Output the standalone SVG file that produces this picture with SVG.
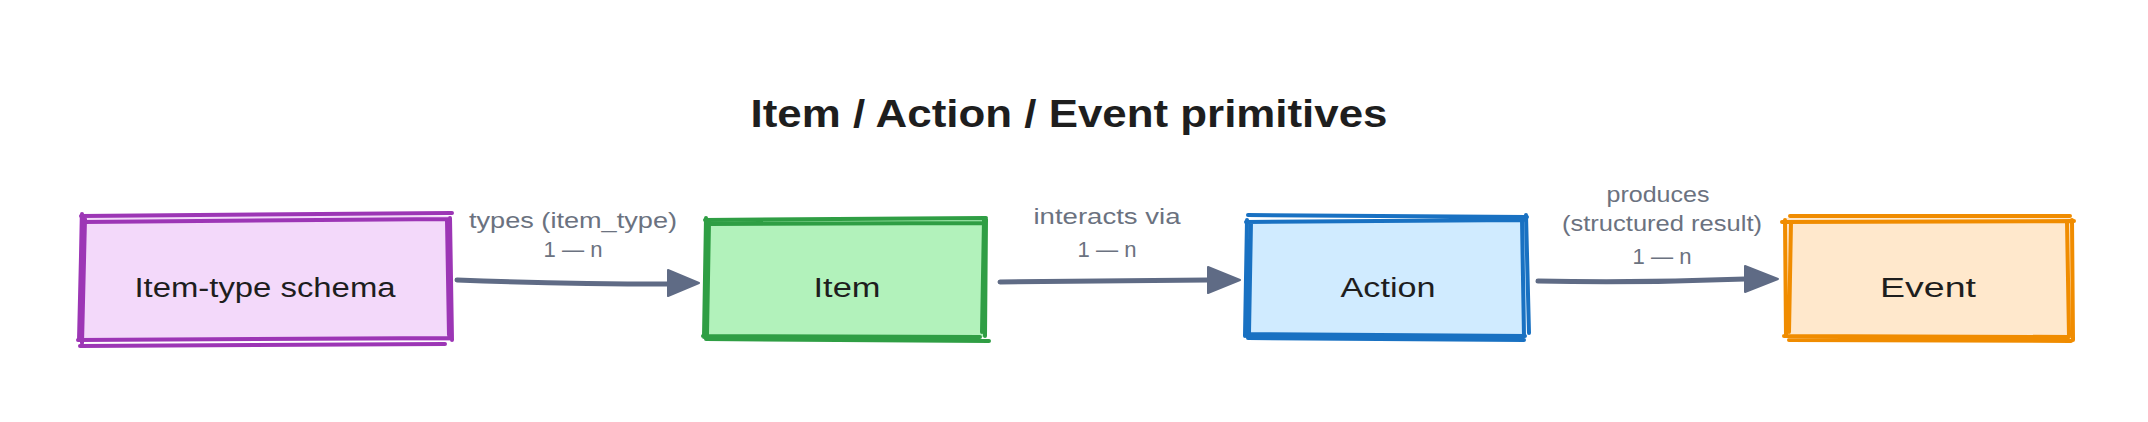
<svg xmlns="http://www.w3.org/2000/svg" width="2148" height="422" viewBox="0 0 2148 422">
<style>
.t{font-family:"Liberation Sans","DejaVu Sans",sans-serif;fill:#1e1e1e;text-anchor:middle}
.title{font-size:38px;font-weight:bold}
.node{font-size:27px}
.lbl{font-family:"Liberation Sans","DejaVu Sans",sans-serif;font-size:22px;fill:#6b7280;text-anchor:middle}
.edge{stroke:#5f6b85;stroke-width:5;fill:none;stroke-linecap:round}
.head{fill:#5f6b85;stroke:#5f6b85;stroke-width:2;stroke-linejoin:round}
.s{fill:none;stroke-width:4;stroke-linecap:round;stroke-linejoin:round}
</style>
<rect width="2148" height="422" fill="#ffffff"/>
<text class="t title" x="1069" y="127" textLength="637" lengthAdjust="spacingAndGlyphs">Item / Action / Event primitives</text>

<g id="node-item-type-schema">
<rect x="79" y="216" width="372" height="125" fill="#f3d9fa"/>
<path class="s" stroke="#9c36b5" d="M81 216 L452 213 M84 222 L449 219 M82 214 L79 340 M85 219 L82 343 M447 220 L449 335 M450 218 L452 340 M78 340 L452 338 M80 346 L445 344"/>
<text class="t node" x="265" y="297" textLength="261" lengthAdjust="spacingAndGlyphs">Item-type schema</text>
</g>

<g id="node-item">
<rect x="705" y="220" width="280" height="117" fill="#b2f2bb"/>
<path class="s" stroke="#2f9e44" d="M705 220 L986 218 M708 224 L984 223 M706 218 L704 337 M709 222 L707 334 M984 220 L982 332 M986 219 L985 336 M703 336 L980 337 M706 339 L989 341"/>
<text class="t node" x="847" y="297" textLength="67" lengthAdjust="spacingAndGlyphs">Item</text>
</g>

<g id="node-action">
<rect x="1246" y="220" width="280" height="117" fill="#d0ebff"/>
<path class="s" stroke="#1971c2" d="M1248 215 L1527 217 M1246 222 L1523 220 M1247 220 L1245 336 M1251 222 L1249 333 M1522 220 L1524 336 M1526 215 L1529 333 M1245 334 L1525 336 M1248 338 L1524 340"/>
<text class="t node" x="1388" y="297" textLength="95" lengthAdjust="spacingAndGlyphs">Action</text>
</g>

<g id="node-event">
<rect x="1786" y="218" width="287" height="120" fill="#ffe8cc"/>
<path class="s" stroke="#f08c00" d="M1790 216 L2070 216 M1782 222 L2074 221 M1785 220 L1786 336 M1791 222 L1789 332 M2067 222 L2069 336 M2072 220 L2073 340 M1784 336 L2069 337 M1789 340 L2071 341"/>
<text class="t node" x="1928" y="297" textLength="96" lengthAdjust="spacingAndGlyphs">Event</text>
</g>

<g id="connectors">
<path class="edge" d="M457 280 Q560 284 668 284"/>
<path class="head" d="M668 270 L699 283 L668 296 Z"/>
<text class="lbl" x="573" y="228" textLength="208" lengthAdjust="spacingAndGlyphs">types (item_type)</text>
<text class="lbl" x="573" y="257" textLength="59" lengthAdjust="spacingAndGlyphs">1 — n</text>

<path class="edge" d="M1000 282 Q1100 281 1208 280"/>
<path class="head" d="M1208 267 L1240 280 L1208 293 Z"/>
<text class="lbl" x="1107" y="224" textLength="147" lengthAdjust="spacingAndGlyphs">interacts via</text>
<text class="lbl" x="1107" y="257" textLength="59" lengthAdjust="spacingAndGlyphs">1 — n</text>

<path class="edge" d="M1538 281 Q1640 283 1745 279"/>
<path class="head" d="M1745 266 L1778 279 L1745 292 Z"/>
<text class="lbl" x="1658" y="202" textLength="103" lengthAdjust="spacingAndGlyphs">produces</text>
<text class="lbl" x="1662" y="231" textLength="200" lengthAdjust="spacingAndGlyphs">(structured result)</text>
<text class="lbl" x="1662" y="264" textLength="59" lengthAdjust="spacingAndGlyphs">1 — n</text>
</g>
</svg>
